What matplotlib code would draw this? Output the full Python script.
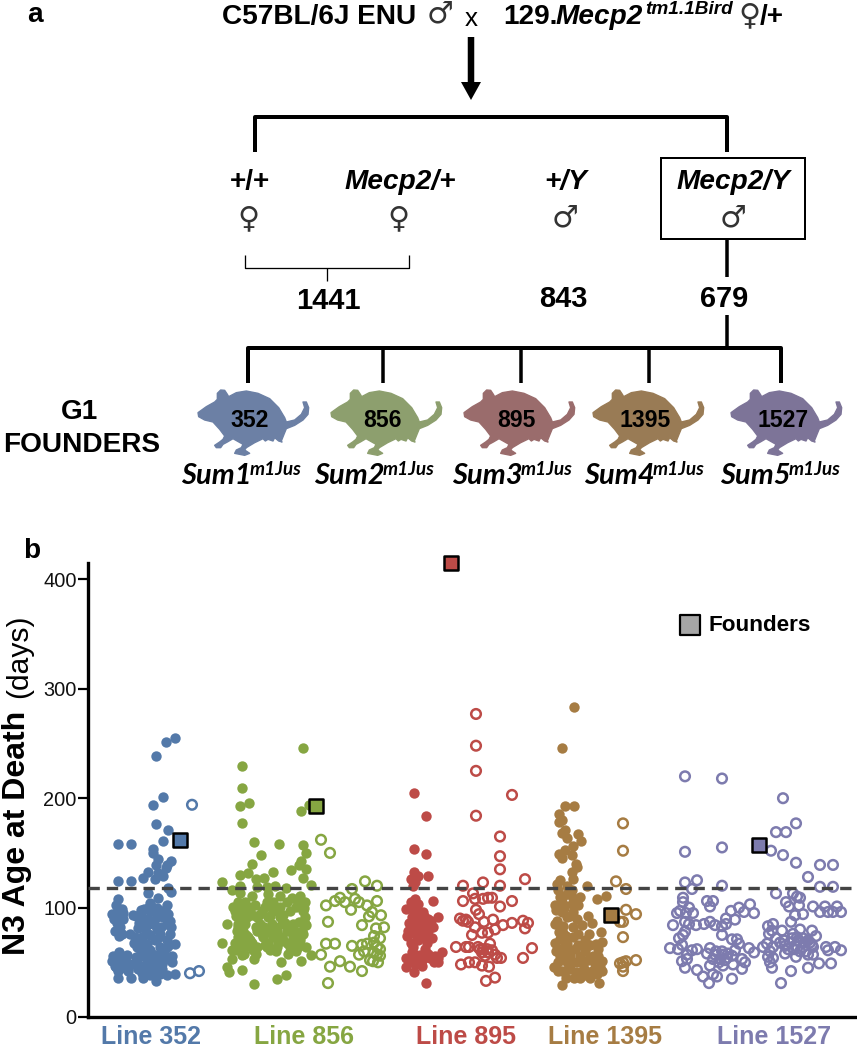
import matplotlib

matplotlib.use("Agg")
import matplotlib.pyplot as plt
from matplotlib.patches import FancyArrow, Polygon, Rectangle

BLUE = "#5379a9"
GREEN = "#86a642"
RED = "#bd4b47"
BROWN = "#a67c43"
PURPLE = "#7d7bae"

LINE_LABELS = ["Line 352", "Line 856", "Line 895", "Line 1395", "Line 1527"]
LINE_LABEL_X = [151, 304, 466, 605, 774]
LINE_COLORS = [BLUE, GREEN, RED, BROWN, PURPLE]

Y_TICKS = [0, 100, 200, 300, 400]
THRESHOLD = 118

# x = jitter position inside the panel, y = age at death in days
blue_x = [175, 166, 156, 163, 153, 156, 168, 163, 118, 131, 153, 153, 158, 171, 156, 167, 166, 148, 158, 163,
          143, 155, 118, 131, 168, 171, 148, 158, 118, 116, 150, 167, 148, 157, 112, 117, 122, 123, 133, 120,
          115, 119, 113, 118, 127, 117, 123, 112, 115, 122, 118, 128, 118, 131, 143, 153, 156, 167, 175, 160,
          141, 150, 155, 160, 168, 142, 148, 157, 163, 170, 145, 153, 167, 138, 145, 157, 130, 135, 142, 148,
          160, 170, 140, 147, 155, 167, 175, 137, 143, 150, 160, 168, 140, 148, 157, 168, 132, 138, 147, 153,
          162, 172, 128, 155, 162,
          113, 119, 125, 116, 121, 126, 118, 123, 114, 120, 117, 122, 136, 144, 152, 160, 165, 139, 146, 154,
          161, 171, 134, 141, 150, 158, 166, 136, 144, 152, 164, 172, 138, 146, 154, 160, 142, 150, 158]
blue_y = [255, 251, 239, 201, 194, 176, 171, 161, 158, 158, 154, 150, 144, 143, 139, 139, 136, 133, 132, 129,
          127, 126, 124, 124, 118, 114, 113, 109, 108, 102, 104, 102, 100, 100, 94, 95, 99, 95, 93, 82,
          79, 74, 51, 57, 57, 51, 53, 51, 47, 48, 42, 42, 36, 36, 36, 39, 33, 38, 39, 39,
          98, 97, 96, 97, 94, 91, 90, 91, 91, 88, 85, 85, 85, 81, 80, 80, 76, 73, 73, 76,
          76, 76, 68, 67, 70, 70, 67, 64, 61, 61, 64, 65, 56, 54, 57, 53, 48, 48, 50, 47,
          48, 50, 44, 42, 44,
          56, 59, 50, 46, 45, 55, 99, 90, 90, 78, 86, 76, 92, 99, 101, 93, 98, 86, 83, 88,
          82, 82, 68, 60, 75, 72, 63, 55, 66, 58, 58, 56, 44, 46, 50, 53, 40, 38, 52]
blue_open_x = [192, 190, 199]
blue_open_y = [194, 40, 42]

green_x = [303, 242, 242, 249, 240, 301, 309, 242, 254, 279, 303, 306, 261, 301, 299, 252, 306, 291, 273, 248,
           240, 303, 264, 256, 222, 311, 240, 275, 267, 257, 286, 232, 240, 252, 268, 280, 300, 292,
           238, 245, 267, 273, 287, 298, 305,
           235, 242, 250, 262, 277, 290, 303,
           238, 247, 257, 268, 280, 305,
           227, 238, 245, 260, 272, 282, 293, 305,
           237, 243, 257, 267, 277, 287, 302,
           238, 248, 263, 273, 282, 293, 300,
           222, 235, 242, 252, 268, 278, 287, 297,
           245, 257, 267, 277, 290, 298, 306,
           232, 253, 270, 291, 242, 254, 232,
           281, 301, 311, 227, 242, 229, 286, 277, 254,
           233, 241, 248, 255, 265, 272, 280, 296, 304,
           236, 243, 252, 259, 270, 283, 299, 306,
           238, 246, 256, 264, 275, 285, 295, 303,
           240, 250, 262, 272, 283, 292, 300,
           236, 244, 256, 265, 276, 288, 296]
green_y = [246, 229, 209, 196, 193, 188, 194, 177, 160, 158, 157, 150, 148, 143, 139, 140, 135, 134, 133, 132,
           130, 127, 127, 126, 123, 121, 120, 120, 119, 119, 118, 116, 113, 111, 112, 111, 111, 109,
           105, 105, 105, 105, 105, 105, 105,
           97, 97, 97, 97, 97, 97, 97,
           91, 91, 91, 91, 91, 91,
           85, 85, 85, 85, 85, 85, 85, 85,
           79, 79, 79, 79, 79, 79, 79,
           73, 73, 73, 73, 73, 73, 73,
           68, 68, 68, 68, 68, 68, 68, 68,
           64, 64, 64, 64, 64, 64, 64,
           61, 61, 61, 61, 57, 53, 53,
           50, 51, 57, 46, 43, 41, 38, 35, 30,
           101, 101, 101, 102, 101, 100, 101, 101, 100,
           92, 88, 93, 93, 92, 93, 87, 84,
           82, 75, 82, 82, 82, 86, 79, 76,
           75, 70, 76, 76, 70, 67, 70,
           61, 58, 58, 66, 60, 58, 60]
green_open_x = [321, 330, 365, 377, 352, 340, 335, 326, 345, 355, 359, 351, 377, 367, 372, 369, 381, 328, 362, 384,
                376, 374, 380, 326, 335, 352, 362, 367, 374, 377, 380, 364, 359, 374, 377, 321, 380, 370, 373, 378,
                340, 330, 350, 362, 328]
green_open_y = [162, 150, 124, 120, 117, 109, 106, 102, 105, 108, 105, 98, 106, 102, 96, 92, 93, 87, 84, 82,
                81, 74, 72, 67, 67, 65, 66, 67, 68, 64, 62, 60, 57, 59, 57, 57, 56, 52, 51, 50,
                51, 46, 46, 42, 31]

red_x = [414, 426, 414, 426, 414, 428, 418, 411, 415, 413, 415, 433, 411, 418, 406, 415, 423, 438, 412, 420,
         428, 415, 423, 433, 408, 420, 428, 407, 415, 423, 427, 413, 412, 406, 420, 442, 438, 413, 423, 430,
         406, 415, 422, 438, 414, 426,
         410, 417, 424, 431, 409, 416, 426, 419, 411, 418, 425, 432, 435, 409, 416, 421, 428, 434]
red_y = [205, 184, 154, 149, 133, 129, 129, 126, 123, 120, 108, 106, 105, 103, 99, 97, 96, 91, 91, 90,
         90, 83, 85, 82, 79, 79, 79, 74, 76, 73, 68, 64, 59, 54, 57, 59, 54, 53, 53, 54,
         46, 48, 47, 50, 41, 31,
         100, 92, 92, 88, 86, 86, 86, 76, 68, 70, 62, 72, 56, 50, 57, 50, 58, 50]
red_open_x = [476, 476, 476, 512, 476, 500, 500, 500, 525, 483, 463, 500, 473, 463, 475, 483, 488, 492, 512, 500,
              476, 479, 460, 466, 463, 468, 484, 493, 512, 523, 528, 503, 525, 475, 495, 482, 488, 472, 490, 456,
              466, 469, 478, 532, 483, 487, 482, 488, 485, 492, 480, 495, 497, 501, 523, 461, 469, 475, 482, 489,
              495, 486]
red_open_y = [277, 248, 225, 203, 184, 165, 147, 135, 126, 123, 120, 120, 113, 106, 108, 108, 109, 109, 106, 101,
              98, 94, 90, 89, 88, 87, 87, 89, 86, 88, 86, 84, 81, 82, 80, 77, 77, 75, 67, 64,
              64, 64, 64, 63, 62, 62, 59, 59, 56, 61, 62, 57, 54, 54, 54, 48, 50, 50, 47, 46,
              36, 33]

brown_x = [574, 562, 565, 574, 559, 562, 559, 565, 562, 578, 567, 581, 573, 565, 559, 572, 562, 576, 577, 572,
           573, 560, 587, 557, 567, 558, 572, 606, 597, 562, 573, 555, 563, 572, 578, 562, 573, 588, 557, 567,
           577, 592, 555, 563, 573, 601, 563, 589, 560, 573, 585, 555, 567, 602, 596, 598, 562, 575, 585, 562,
           570, 580, 590, 602, 558, 567, 573, 583, 595, 554, 562, 570, 577, 585, 597, 602, 599, 562,
           560, 567, 574, 580, 556, 564, 570, 582, 559, 566, 578, 585, 593, 556, 563, 570, 578, 590, 598,
           560, 568, 576, 584, 592, 600, 558, 566, 574, 588, 597, 568, 580, 590]
brown_y = [283, 246, 193, 193, 186, 180, 178, 171, 168, 167, 164, 161, 156, 153, 149, 148, 145, 140, 137, 133,
           126, 125, 120, 122, 120, 116, 116, 111, 108, 109, 109, 102, 103, 103, 102, 96, 96, 92, 88, 91,
           90, 86, 85, 83, 82, 78, 77, 76, 71, 73, 70, 68, 67, 69, 67, 62, 62, 62, 62, 56,
           57, 56, 54, 51, 50, 50, 50, 48, 48, 46, 42, 44, 41, 38, 39, 42, 31, 29,
           110, 112, 104, 110, 98, 100, 92, 84, 78, 74, 76, 60, 56, 60, 70, 60, 66, 66, 56,
           56, 44, 50, 44, 42, 46, 42, 36, 36, 52, 52, 60, 36, 36]
brown_open_x = [623, 623, 616, 626, 626, 636, 620, 623, 623, 636, 626, 620, 623, 623, 623]
brown_open_y = [177, 152, 124, 117, 98, 94, 87, 87, 73, 52, 51, 49, 50, 46, 42]

purple_open_x = [685, 722, 783, 796, 776, 786, 685, 722, 771, 783, 796, 820, 833, 808, 685, 697, 692, 722, 820, 833,
                 776, 793, 797, 800, 683, 683, 707, 713, 710, 786, 789, 799, 689, 750, 739, 731, 813, 825, 837, 820,
                 828, 833, 841, 680, 677, 686, 693, 744, 754, 726, 735, 795, 803, 673, 685, 689, 696, 704, 710, 715,
                 726, 722, 791, 768, 773, 772, 782, 800, 812, 685, 683, 679, 722, 769, 816, 793, 797, 732, 737, 739,
                 767, 780, 790, 800, 805, 810, 785, 795, 803, 813, 826, 835, 841, 828, 763, 773, 670, 678, 682, 692,
                 697, 710, 749, 735, 754, 707, 715, 723, 732, 687, 785, 808, 796, 813, 768, 773, 713, 720, 727, 742,
                 687, 682, 745, 710, 723, 733, 770, 772, 819, 831, 808, 742, 685, 697, 791, 717, 713, 703, 732, 709,
                 781,
                 784, 792, 798, 803, 808, 812, 788, 794, 800, 806, 716, 722, 728, 719, 725, 776, 770]
purple_open_y = [220, 218, 200, 177, 169, 169, 151, 155, 152, 148, 141, 139, 139, 128, 123, 125, 117, 120, 119, 119,
                 113, 113, 110, 109, 109, 105, 106, 106, 101, 105, 101, 102, 100, 103, 100, 97, 101, 101, 101, 96,
                 96, 96, 96, 97, 95, 95, 95, 96, 95, 90, 89, 93, 94, 84, 87, 85, 84, 85, 87, 84,
                 85, 83, 87, 83, 85, 79, 79, 80, 79, 78, 75, 72, 75, 76, 74, 76, 73, 71, 71, 67,
                 67, 68, 68, 68, 68, 68, 65, 65, 64, 64, 64, 64, 61, 61, 64, 64, 63, 62, 66, 61,
                 62, 63, 63, 61, 59, 58, 57, 57, 56, 57, 58, 57, 55, 57, 55, 54, 53, 53, 54, 53,
                 53, 51, 50, 47, 47, 48, 50, 45, 49, 49, 45, 44, 45, 43, 42, 37, 39, 37, 35, 31,
                 31,
                 70, 72, 70, 72, 70, 66, 62, 62, 60, 60, 60, 60, 58, 50, 52, 72, 60]

founder_x = [180, 316, 451, 611, 759]
founder_y = [162, 193, 415, 93, 157]
founder_colors = [BLUE, GREEN, RED, BROWN, PURPLE]
legend_x = [690]
legend_y = [358]

mouse_numbers = ["352", "856", "895", "1395", "1527"]
mouse_left = [198, 331, 464, 593, 731]
mouse_colors = ["#6c80a5", "#8d9f6e", "#9a6c6c", "#997b55", "#7d7498"]
sum_names = ["Sum1", "Sum2", "Sum3", "Sum4", "Sum5"]
sum_left = [181, 314, 452, 584, 720]

MOUSE_OUTLINE = [(20, 100), (45, 82), (70, 68), (78, 60), (78, 42), (88, 32), (100, 33), (108, 45), (112, 52),
                 (135, 40), (165, 35), (200, 42), (235, 58), (262, 85), (280, 115), (285, 128), (310, 122),
                 (330, 105), (340, 85), (335, 68), (345, 68), (352, 85), (350, 105), (335, 122), (310, 138),
                 (285, 148), (278, 165), (270, 185), (272, 188), (262, 185), (250, 175), (245, 185), (230, 180),
                 (222, 185), (215, 178), (190, 190), (165, 205), (160, 212), (175, 222), (160, 228), (145, 225),
                 (130, 222), (135, 212), (150, 205), (155, 195), (125, 178), (108, 188), (95, 195), (88, 205),
                 (75, 205), (70, 198), (85, 188), (95, 180), (100, 170), (85, 150), (65, 128), (40, 122), (22, 112)]

SANS = "Liberation Sans"


def px(size):
    # font size in points from a size in pixels, figure is 100 dpi
    return size * 0.72


def label(ax, x, y, s, size, ha="center", va="baseline", style="normal", weight="bold", family=SANS, **kw):
    ax.text(x, y, s, fontsize=px(size), ha=ha, va=va, style=style, weight=weight, family=family, **kw)


def symbol(ax, x, y, s, size=30):
    ax.text(x, y, s, fontsize=px(size), ha="center", va="center", family="DejaVu Sans", color="#333333")


def rule(ax, xs, ys, width=3.5, color="black"):
    ax.plot(xs, ys, color=color, lw=px(width), solid_capstyle="butt", solid_joinstyle="round")


def draw_cross(ax):
    label(ax, 27, 22, "a", 28, ha="left")
    label(ax, 222, 24, "C57BL/6J ENU", 28, ha="left")
    symbol(ax, 440, 14, "\u2642")
    label(ax, 471, 26, "x", 26, weight="normal")
    label(ax, 503, 24, "129.", 28, ha="left")
    label(ax, 556, 24, "Mecp2", 28, ha="left", style="italic")
    label(ax, 645, 14, "tm1.1Bird", 19, ha="left", style="italic")
    symbol(ax, 749, 16, "\u2640")
    label(ax, 760, 24, "/+", 28, ha="left")

    ax.add_patch(FancyArrow(471, 37, 0, 63, width=6.5, head_width=20, head_length=18,
                            length_includes_head=True, color="black", lw=0))

    rule(ax, [255, 255, 727, 727], [152, 117, 117, 152], width=4)

    label(ax, 250, 189, "+/+", 28)
    symbol(ax, 248, 219, "\u2640")
    label(ax, 400, 189, "Mecp2/+", 28, style="italic")
    symbol(ax, 398, 219, "\u2640")
    label(ax, 566, 189, "+/Y", 28, style="italic")
    symbol(ax, 565, 218, "\u2642")
    ax.add_patch(Rectangle((661, 158), 144, 81, fill=False, edgecolor="black", lw=px(2)))
    label(ax, 733, 189, "Mecp2/Y", 28, style="italic")
    symbol(ax, 733, 218, "\u2642")

    rule(ax, [245, 245, 409, 409], [255, 268, 268, 255], width=1.3)
    rule(ax, [327, 327], [268, 281], width=1.3)

    label(ax, 328, 309, "1441", 29)
    label(ax, 563, 307, "843", 29)
    label(ax, 724, 307, "679", 29)
    rule(ax, [727, 727], [239, 277])
    rule(ax, [727, 727], [315, 348])


def draw_founders(ax):
    rule(ax, [248, 248, 781, 781], [383, 348, 348, 383], width=4)
    for x in [383, 521, 649]:
        rule(ax, [x, x], [348, 383])

    label(ax, 80, 419, "G1", 28)
    label(ax, 82, 452, "FOUNDERS", 28)

    for left, color, number in zip(mouse_left, mouse_colors, mouse_numbers):
        shape = [(left + (x - 20) / 3, 390 + (y - 32) / 3) for x, y in MOUSE_OUTLINE]
        ax.add_patch(Polygon(shape, closed=True, facecolor=color, edgecolor=color, lw=1, joinstyle="round"))
        label(ax, left + 52, 427, number, 23)

    for left, name in zip(sum_left, sum_names):
        label(ax, left, 484, name, 29, ha="left", style="italic", family="Lato")
        label(ax, left + 69, 475, "m1Jus", 19, ha="left", style="italic", family="Lato")


def draw_scatter(ax):
    filled = [(blue_x, blue_y, BLUE), (green_x, green_y, GREEN), (red_x, red_y, RED), (brown_x, brown_y, BROWN)]
    hollow = [(blue_open_x, blue_open_y, BLUE), (green_open_x, green_open_y, GREEN), (red_open_x, red_open_y, RED),
              (brown_open_x, brown_open_y, BROWN), (purple_open_x, purple_open_y, PURPLE)]
    for xs, ys, color in filled:
        ax.scatter(xs, ys, s=56, color=color, linewidths=0, clip_on=False, zorder=2)
    for xs, ys, color in hollow:
        ax.scatter(xs, ys, s=48, facecolors="none", edgecolors=color, linewidths=1.8, clip_on=False, zorder=2)

    ax.axhline(THRESHOLD, color="#444444", lw=2.4, dashes=(3.4, 2.1), zorder=3)

    ax.scatter(founder_x, founder_y, s=105, marker="s", c=founder_colors, edgecolors="black", linewidths=1.8,
               clip_on=False, zorder=4)
    ax.scatter(legend_x, legend_y, s=190, marker="s", c="#a6a6a6", edgecolors="black", linewidths=1.6, zorder=4)
    ax.text(708, 358, "Founders", fontsize=px(22.5), weight="bold", family=SANS, va="center")

    ax.set_xlim(88, 855)
    ax.set_ylim(0, 415)
    ax.set_xticks([])
    ax.set_yticks(Y_TICKS)
    ax.tick_params(axis="y", length=7.2, width=1.6, pad=1, labelsize=px(20), labelcolor="#111111")
    for tick in ax.get_yticklabels():
        tick.set_family(SANS)
    ax.spines["top"].set_visible(False)
    ax.spines["right"].set_visible(False)
    ax.spines["left"].set_linewidth(2.4)
    ax.spines["bottom"].set_linewidth(2.4)
    ax.patch.set_alpha(0)


def main():
    fig = plt.figure(figsize=(8.57, 10.5), dpi=100)

    page = fig.add_axes([0, 0, 1, 1])
    page.set_xlim(0, 857)
    page.set_ylim(1050, 0)
    page.axis("off")

    draw_cross(page)
    draw_founders(page)

    label(page, 23, 558, "b", 28, ha="left")
    page.text(17, 955, "N3 Age at Death", rotation=90, fontsize=px(32), weight="bold", family=SANS,
              ha="center", va="bottom")
    page.text(19, 698, "(days)", rotation=90, fontsize=px(30), family=SANS, ha="center", va="bottom")
    for x, name, color in zip(LINE_LABEL_X, LINE_LABELS, LINE_COLORS):
        label(page, x, 1044, name, 25, color=color)

    ax = fig.add_axes([88 / 857, (1050 - 1017) / 1050, (855 - 88) / 857, (1017 - 563) / 1050])
    draw_scatter(ax)

    fig.savefig("out.png", dpi=100)


if __name__ == "__main__":
    main()
